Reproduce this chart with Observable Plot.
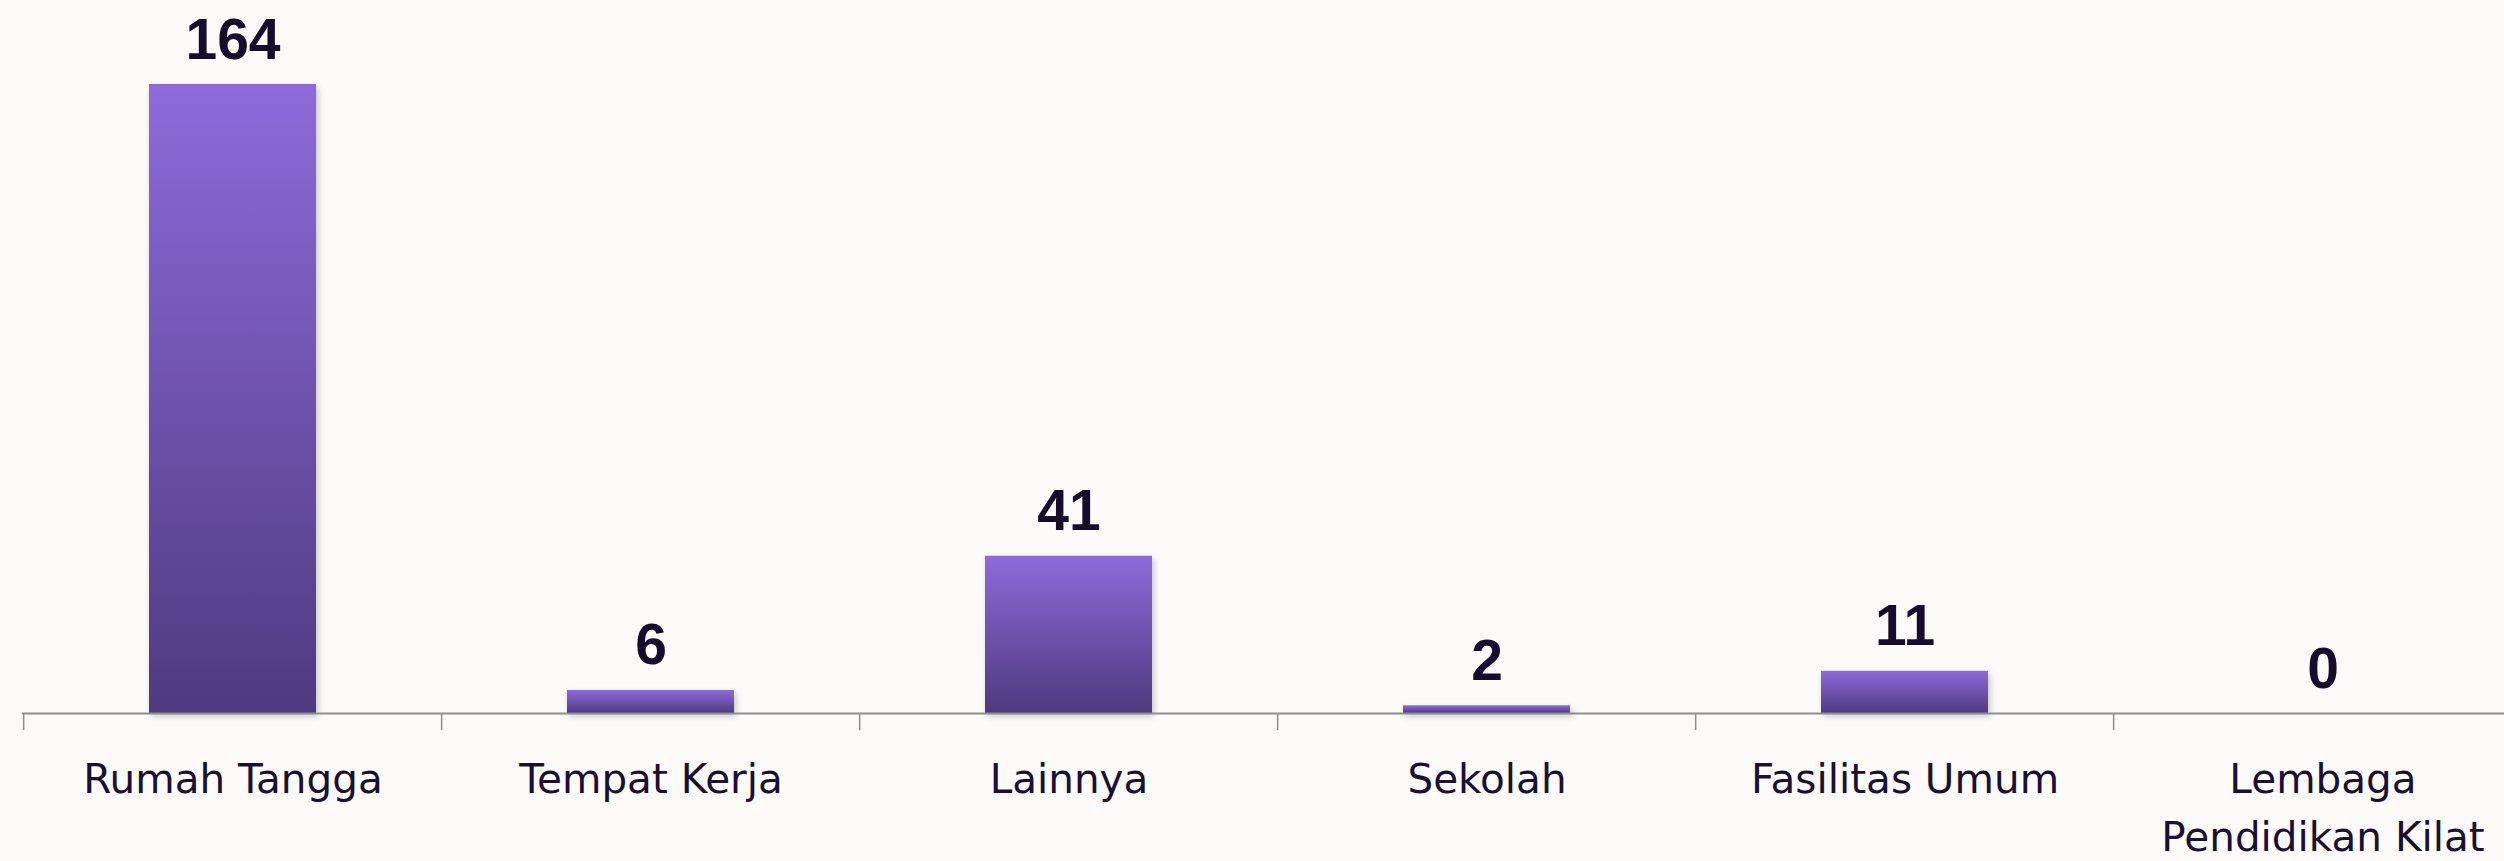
<!DOCTYPE html>
<html>
<head>
<meta charset="utf-8">
<script src="https://cdn.jsdelivr.net/npm/d3@7"></script>
<script src="https://cdn.jsdelivr.net/npm/@observablehq/plot@0.6"></script>
<style>
  html, body { margin: 0; padding: 0; background: #fcfbf9; overflow: hidden; }
  #chart svg { display: block; background: #fcfbf9; }
  .bars rect { filter: drop-shadow(2px 3px 3px rgba(0,0,0,0.22)); }
</style>
</head>
<body>
<div id="chart"></div>
<script>
const categories = ["Rumah Tangga", "Tempat Kerja", "Lainnya", "Sekolah", "Fasilitas Umum", "Lembaga Pendidikan Kilat"];
const tickLabels = ["Rumah Tangga", "Tempat Kerja", "Lainnya", "Sekolah", "Fasilitas Umum", "Lembaga\nPendidikan Kilat"];
const values = [164, 6, 41, 2, 11, 0];

const data = categories.map((c, i) => ({category: c, value: values[i]}));

const W = 2504, H = 861, mL = 22, mR = -30, mT = 84, mB = 148;
const step = (W - mL - mR) / categories.length;
const frameH = H - mT - mB;

const chart = Plot.plot({
  width: W,
  height: H,
  marginLeft: mL,
  marginRight: mR,
  marginTop: mT,
  marginBottom: mB,
  style: {background: "#fcfbf9"},
  x: {domain: categories, paddingInner: 0.6, paddingOuter: 0.3, label: null},
  y: {domain: [0, 164], axis: null},
  marks: [
    Plot.barY(data, {x: "category", y: "value", fill: "url(#barGrad)", className: "bars"}),
    Plot.ruleY([0], {stroke: "#8e8e8e", strokeWidth: 2}),
    Plot.ruleX(categories, {x: d => d, dx: -step / 2, stroke: "#8e8e8e", strokeWidth: 1.5, insetTop: frameH, insetBottom: -17}),
    Plot.text(data, {x: "category", y: "value", text: d => String(d.value), lineAnchor: "bottom", dy: -26,
      fontFamily: "Liberation Sans, Arial, sans-serif", fontWeight: "bold", fontSize: 57, fill: "#160c2c"}),
    Plot.axisX({tickSize: 0, tickPadding: 38, tickFormat: (d, i) => tickLabels[categories.indexOf(d)],
      fontSize: 40.5, fontFamily: "DejaVu Sans, sans-serif", fill: "#1a1030", lineHeight: 1.43, label: null})
  ]
});

const defs = d3.select(chart).insert("defs", ":first-child");
const g = defs.append("linearGradient").attr("id", "barGrad").attr("x1", 0).attr("y1", 0).attr("x2", 0).attr("y2", 1);
g.append("stop").attr("offset", "0%").attr("stop-color", "#8d6bda");
g.append("stop").attr("offset", "100%").attr("stop-color", "#4e3a7f");

document.getElementById("chart").appendChild(chart);
</script>
</body>
</html>
